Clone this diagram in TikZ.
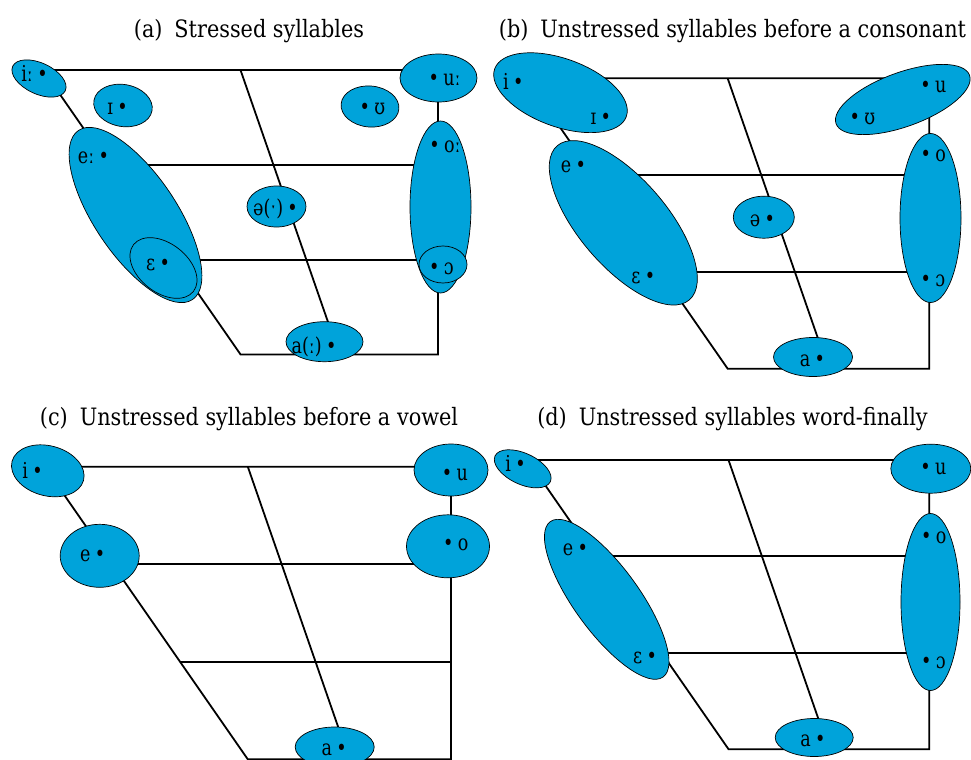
\documentclass[tikz,border=0pt]{standalone}
\usepackage{fontspec}
\setmainfont{DejaVu Serif}[FakeStretch=0.87]
\newfontfamily\labfont{DejaVu Serif}[FakeStretch=0.8]
\usetikzlibrary{shapes.geometric}
\definecolor{vblue}{RGB}{0,163,218}
\tikzset{
  frame/.style={line width=1.8bp},
  vow/.style={ellipse, draw=black, fill=vblue, line width=0.7bp, inner sep=0pt},
  ell/.style 2 args={vow, minimum width=2*#1bp, minimum height=2*#2bp},
  lab/.style={anchor=base, yshift=-5.7bp, inner sep=0pt, font=\labfont\fontsize{22}{24}\selectfont},
  ttl/.style={anchor=base, yshift=-6.2bp, inner sep=0pt, font=\fontsize{24}{26}\selectfont},
}
\newcommand{\bl}{\kern0.2em•}
\newcommand{\br}{•\kern0.2em}
\newcommand{\vowframe}[4]{%
  \coordinate (#1tl) at (#2,#3);
  \coordinate (#1tr) at ({#2+#4},#3);
  \coordinate (#1br) at ({#2+#4},{#3+0.72*#4});
  \coordinate (#1bl) at ({#2+0.5*#4},{#3+0.72*#4});
  \coordinate (#1ml) at ({#2+#4/6},{#3+0.24*#4});
  \coordinate (#1mr) at ({#2+#4},{#3+0.24*#4});
  \coordinate (#1ll) at ({#2+#4/3},{#3+0.48*#4});
  \coordinate (#1lr) at ({#2+#4},{#3+0.48*#4});
  \coordinate (#1ct) at ({#2+0.5*#4},#3);
  \coordinate (#1cb) at ({#2+0.75*#4},{#3+0.72*#4});
  \draw[frame] (#1tl) -- (#1tr) -- (#1br) -- (#1bl) -- cycle;
  \draw[frame] (#1ml) -- (#1mr);
  \draw[frame] (#1ll) -- (#1lr);
  \draw[frame] (#1ct) -- (#1cb);
}
\begin{document}
\begin{tikzpicture}[x=1bp,y=-1bp]
\useasboundingbox (0,0) rectangle (971,760);
% titles
\node[ttl] (ta) at (249,31) {(a)\enspace Stressed syllables};
\node[ttl] (tb) at (732.5,31) {(b)\enspace Unstressed syllables before a consonant};
\node[ttl] (tc) at (249,419) {(c)\enspace Unstressed syllables before a vowel};
\node[ttl] (td) at (732.5,419) {(d)\enspace Unstressed syllables word-finally};
% frames
\vowframe{a}{43}{70}{395}
\vowframe{b}{526}{78.3}{403.3}
\vowframe{c}{44.6}{466.7}{406.4}
\vowframe{d}{527.7}{460}{401.6}
% (a) ellipses
\node[ell={29}{15.5}, rotate=-25] (a-i) at (39,78.5) {};
\node[ell={29.5}{21}, rotate=-10] (a-I) at (123,105.5) {};
\node[ell={29}{20.5}, rotate=-5] (a-U) at (370,106.5) {};
\node[ell={38.5}{24}] (a-u) at (438.5,78) {};
\node[ell={102}{41}, rotate=-56] (a-e) at (135.5,215) {};
\node[ell={38}{24.5}, rotate=-38] (a-E) at (163.5,268) {};
\node[ell={29.5}{20.5}] (a-schwa) at (276.5,206.5) {};
\node[ell={38.5}{20}] (a-a) at (324.5,341.7) {};
\node[ell={30.5}{86}] (a-o) at (440.5,207) {};
\node[ell={24}{18.5}] (a-O) at (443,264.5) {};
% (b) ellipses
\node[ell={70}{34}, rotate=-20] (b-i) at (560.5,92.7) {};
\node[ell={71}{27}, rotate=20] (b-u) at (902.8,99.5) {};
\node[ell={101.5}{44}, rotate=-49.4] (b-e) at (623.3,222.8) {};
\node[ell={30.5}{21}] (b-schwa) at (763.8,217.2) {};
\node[ell={39.5}{19.5}] (b-a) at (813,357) {};
\node[ell={30.5}{84.5}] (b-o) at (930.5,218) {};
% (c) ellipses
\node[ell={37}{25}, rotate=-15] (c-i) at (47.8,470.8) {};
\node[ell={39.5}{31.5}] (c-e) at (99.7,555.8) {};
\node[ell={37}{26}] (c-u) at (451,470) {};
\node[ell={41.5}{31.5}] (c-o) at (448,546.3) {};
\node[ell={39.5}{20}] (c-a) at (334.7,747) {};
% (d) ellipses
\node[ell={30.5}{15.5}, rotate=-25] (d-i) at (522.7,468.8) {};
\node[ell={40}{24.5}] (d-u) at (930.8,468.7) {};
\node[ell={96}{32.5}, rotate=-54] (d-e) at (606.7,599.3) {};
\node[ell={29.5}{88.5}] (d-o) at (930.5,602) {};
\node[ell={39}{19}] (d-a) at (814.2,737.5) {};
% (a) labels
\node[lab] (la-i) at (34.5,76) {iː\bl};
\node[lab] (la-I) at (117.5,109) {ɪ\bl};
\node[lab] (la-U) at (372.5,109) {\br ʊ};
\node[lab] (la-u) at (444.5,80) {\br uː};
\node[lab] (la-e) at (93.5,157.5) {eː\bl};
\node[lab] (la-E) at (158,265) {ɛ\bl};
\node[lab] (la-schwa) at (275.5,210) {ə(ˑ)\bl};
\node[lab] (la-a) at (314,347.5) {a(ː)\bl};
\node[lab] (la-o) at (445,146.7) {\br oː};
\node[lab] (la-O) at (441.5,269) {\br ɔ};
% (b) labels
\node[lab] (lb-i) at (513.3,84) {i\bl};
\node[lab] (lb-I) at (600.8,118.5) {ɪ\bl};
\node[lab] (lb-u) at (933.3,87) {\br u};
\node[lab] (lb-U) at (862.5,118.5) {\br ʊ};
\node[lab] (lb-e) at (573.5,167) {e\bl};
\node[lab] (lb-E) at (643.3,277.5) {ɛ\bl};
\node[lab] (lb-schwa) at (762.5,221) {ə\bl};
\node[lab] (lb-a) at (812.5,361) {a\bl};
\node[lab] (lb-o) at (933.3,156) {\br o};
\node[lab] (lb-O) at (933,281) {\br ɔ};
% (c) labels
\node[lab] (lc-i) at (32.5,472.5) {i\bl};
\node[lab] (lc-e) at (92.8,556) {e\bl};
\node[lab] (lc-u) at (455,474.5) {\br u};
\node[lab] (lc-o) at (455.8,545) {\br o};
\node[lab] (lc-a) at (334.2,750) {a\bl};
% (d) labels
\node[lab] (ld-i) at (515.5,466) {i\bl};
\node[lab] (ld-u) at (933.3,468.5) {\br u};
\node[lab] (ld-e) at (575.3,549.5) {e\bl};
\node[lab] (ld-E) at (645,658) {ɛ\bl};
\node[lab] (ld-o) at (933.7,537.5) {\br o};
\node[lab] (ld-O) at (933.5,663) {\br ɔ};
\node[lab] (ld-a) at (813,741) {a\bl};
\end{tikzpicture}
\end{document}
